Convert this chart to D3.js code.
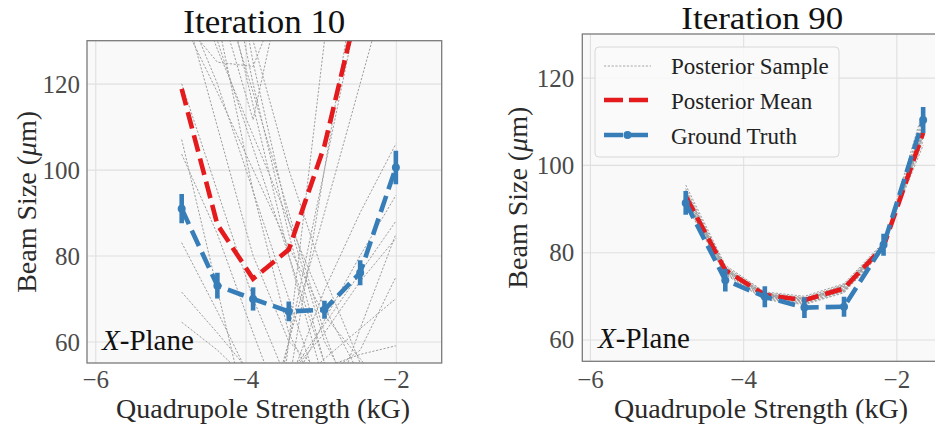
<!DOCTYPE html>
<html><head><meta charset="utf-8">
<script src="https://cdn.jsdelivr.net/npm/d3@7"></script>
<style>
body{margin:0;background:#fff;}
svg{display:block;font-family:"Liberation Serif","Times New Roman",serif;}
</style></head><body>
<svg id="chart" width="935" height="427"></svg>
<script>
// ---------- data ----------
const xTicks = [-6, -4, -2];
const yTicks = [60, 80, 100, 120];
const yDomain = [55, 130];

// Iteration 10 panel
const leftQuad = [-4.85, -4.375, -3.9, -3.425, -2.95, -2.475, -2.0];
const leftTruth = [90.9, 73.0, 69.9, 67.0, 67.4, 76.0, 100.5];
const leftTruthErr = [3.4, 3.0, 2.7, 2.3, 2.1, 2.9, 3.9];
const leftMean = [118.8, 87.2, 74.6, 81.4, 105.6, 140.4, 185.0];
const leftSamples = [
  [107, 72, 37, 10, -20, -50, -80],
  [103.6, 85, 62, 40, 20, 0, -20],
  [83, 67, 50, 35, 20, 5, -10],
  [71.5, 62, 52, 42, 30, 20, 10],
  [64.5, 58, 50, 42, 35, 28, 20],
  [140, 120, 95, 70, 45, 25, 10],
  [155, 130, 105, 80, 55, 35, 20],
  [170, 145, 118, 90, 62, 40, 25],
  [185, 150, 115, 80, 50, 25, 5],
  [200, 160, 120, 85, 55, 30, 10],
  [150, 128, 108, 88, 68, 52, 40],
  [220, 170, 125, 88, 60, 45, 35],
  [135, 118, 100, 82, 66, 56, 45],
  [190, 160, 130, 100, 75, 55, 35],
  [-40, -5, 25, 50, 72, 90, 106],
  [-20, 5, 28, 48, 65, 80, 94],
  [0, 20, 38, 52, 64, 76, 88],
  [10, 25, 40, 52, 62, 74, 84],
  [20, 30, 40, 48, 56, 63, 70],
  [30, 38, 45, 50, 54, 57, 59],
  [-100, -50, 0, 50, 100, 150, 200],
  [-60, -20, 20, 60, 100, 140, 180],
  [-150, -80, -10, 60, 130, 200, 270],
  [-30, 0, 30, 60, 90, 120, 150],
  [160, 140, 111.6, 150, 190, 220, 250],
  [135, 125, 124, 145, 170, 200, 230],
  [120, 95, 70, 50, 40, 63, 85],
  [140, 110, 80, 60, 52, 58, 75],
  [175, 135, 95, 62, 45, 40, 52]
];

// Iteration 90 panel
const rightQuad = [-4.75, -4.233, -3.717, -3.2, -2.683, -2.167, -1.65];
const rightTruth = [91.3, 73.6, 69.8, 67.3, 67.5, 81.7, 110.3];
const rightTruthErr = [2.7, 2.6, 2.4, 2.4, 2.3, 2.5, 3.0];
const rightMean = [92.8, 75.9, 70.2, 69.0, 71.7, 81.3, 107.4];
const rightSamples = [
  [95.4, 77.0, 70.9, 69.9, 72.8, 82.3, 104.5],
  [94.6, 76.7, 70.7, 69.6, 72.5, 82.0, 105.5],
  [94.0, 76.4, 70.5, 69.4, 72.2, 81.8, 106.3],
  [93.5, 76.2, 70.3, 69.2, 72.0, 81.6, 107.0],
  [93.0, 76.0, 70.1, 69.0, 71.8, 81.4, 107.6],
  [92.6, 75.8, 69.9, 68.8, 71.5, 81.2, 108.2],
  [92.2, 75.5, 69.7, 68.6, 71.3, 81.0, 108.9],
  [91.8, 75.3, 69.5, 68.4, 71.1, 80.8, 109.6],
  [91.4, 75.1, 69.3, 68.2, 70.9, 80.6, 110.5],
  [91.0, 74.9, 69.1, 68.0, 70.7, 80.4, 111.5],
  [93.8, 75.6, 70.6, 68.7, 72.6, 81.1, 108.0],
  [92.4, 76.5, 69.6, 69.5, 71.0, 81.9, 106.8],
  [94.2, 75.9, 70.0, 69.3, 71.4, 81.5, 112.6],
  [92.0, 76.1, 70.4, 68.9, 72.3, 80.9, 107.3]
];

const legendLabels = ["Posterior Sample", "Posterior Mean", "Ground Truth"];

// ---------- style ----------
const RED = "#e41a1c", BLUE = "#377eb8", GRAY = "#9e9e9e";
const svg = d3.select("#chart");
const fmt = d3.format("~g");

function panel(o) {
  const x = d3.scaleLinear().domain(o.xDomain).range([o.left, o.right]);
  const y = d3.scaleLinear().domain(yDomain).range([o.bottom, o.top]);
  const W = o.right - o.left, H = o.bottom - o.top;
  const g = svg.append("g");

  g.append("rect").attr("x", o.left).attr("y", o.top).attr("width", W).attr("height", H)
    .attr("fill", "#f9f9f9");

  // grid
  const gx = g.append("g").attr("transform", `translate(0,${o.bottom})`)
    .call(d3.axisBottom(x).tickValues(xTicks).tickSize(-H).tickFormat(""));
  gx.select(".domain").remove();
  gx.selectAll("line").attr("stroke", "#e0e0e0").attr("stroke-width", 1.1);
  const gy = g.append("g").attr("transform", `translate(${o.left},0)`)
    .call(d3.axisLeft(y).tickValues(yTicks).tickSize(-W).tickFormat(""));
  gy.select(".domain").remove();
  gy.selectAll("line").attr("stroke", "#e0e0e0").attr("stroke-width", 1.1);

  const clipId = "clip" + o.id;
  svg.append("clipPath").attr("id", clipId).append("rect")
    .attr("x", o.left).attr("y", o.top).attr("width", W).attr("height", H);
  const plot = g.append("g").attr("clip-path", `url(#${clipId})`);

  const line = d3.line().x((d, i) => x(o.quad[i])).y(d => y(d));

  plot.selectAll(".sample").data(o.samples).join("path").attr("class", "sample")
    .attr("d", line).attr("fill", "none").attr("stroke", GRAY)
    .attr("stroke-width", o.sampleWidth).attr("stroke-dasharray", "2.2,1.6");

  plot.append("path").attr("d", line(o.mean)).attr("fill", "none")
    .attr("stroke", RED).attr("stroke-width", 4.6).attr("stroke-dasharray", "17,7");

  // ground truth error bars
  plot.selectAll(".err").data(o.truth).join("line").attr("class", "err")
    .attr("x1", (d, i) => x(o.quad[i])).attr("x2", (d, i) => x(o.quad[i]))
    .attr("y1", (d, i) => y(d - o.err[i])).attr("y2", (d, i) => y(d + o.err[i]))
    .attr("stroke", BLUE).attr("stroke-width", 4.6);
  plot.append("path").attr("d", line(o.truth)).attr("fill", "none")
    .attr("stroke", BLUE).attr("stroke-width", 4.6).attr("stroke-dasharray", "17,7");
  plot.selectAll(".dot").data(o.truth).join("circle").attr("class", "dot")
    .attr("cx", (d, i) => x(o.quad[i])).attr("cy", d => y(d)).attr("r", 4).attr("fill", BLUE);

  // border
  g.append("rect").attr("x", o.left).attr("y", o.top).attr("width", W).attr("height", H)
    .attr("fill", "none").attr("stroke", "#7a7a7a").attr("stroke-width", 1.3);

  // tick labels
  const tx = g.append("g").attr("transform", `translate(0,${o.bottom})`)
    .call(d3.axisBottom(x).tickValues(xTicks).tickSize(0).tickFormat(fmt));
  tx.select(".domain").remove();
  tx.selectAll("text").attr("dy", null).attr("y", o.xTickBase - o.bottom)
    .attr("font-size", 25).attr("fill", "#4a4a4a").attr("font-family", "Liberation Serif");
  const ty = g.append("g").attr("transform", `translate(${o.left},0)`)
    .call(d3.axisLeft(y).tickValues(yTicks).tickSize(0).tickPadding(o.yPad).tickFormat(fmt));
  ty.select(".domain").remove();
  ty.selectAll("text").attr("dy", "0.34em")
    .attr("font-size", 25).attr("fill", "#4a4a4a").attr("font-family", "Liberation Serif");

  // title
  g.append("text").attr("x", (o.left + o.right) / 2).attr("y", o.titleY)
    .attr("text-anchor", "middle").attr("font-size", o.titleSize).attr("fill", "#111")
    .attr("textLength", 162).attr("lengthAdjust", "spacingAndGlyphs").text(o.title);
  // axis labels
  g.append("text").attr("x", o.xLabelX).attr("y", 418).attr("text-anchor", "middle")
    .attr("font-size", 28).attr("fill", "#2a2a2a").text("Quadrupole Strength (kG)");
  const yl = g.append("text").attr("transform", `translate(${o.yLabelX},${(o.top + o.bottom) / 2}) rotate(-90)`)
    .attr("text-anchor", "middle").attr("font-size", 28).attr("fill", "#2a2a2a");
  yl.append("tspan").text("Beam Size (");
  yl.append("tspan").attr("font-style", "italic").text("μ");
  yl.append("tspan").text("m)");
  // plane label
  const pl = g.append("text").attr("x", o.planeX).attr("y", o.planeY)
    .attr("font-size", 29).attr("fill", "#111");
  pl.append("tspan").attr("font-style", "italic").text("X");
  pl.append("tspan").text("-Plane");
  return {x, y};
}

panel({id: "L", left: 87, right: 441.7, top: 40.7, bottom: 363, xDomain: [-6.11, -1.39],
  quad: leftQuad, truth: leftTruth, err: leftTruthErr, mean: leftMean, samples: leftSamples,
  sampleWidth: 1.0, title: "Iteration 10", titleY: 33, titleSize: 34, xTickBase: 388, yPad: 7,
  xLabelX: 263, yLabelX: 36, planeX: 102, planeY: 350});

panel({id: "R", left: 582.3, right: 942.3, top: 34, bottom: 361.3, xDomain: [-6.1, -1.4],
  quad: rightQuad, truth: rightTruth, err: rightTruthErr, mean: rightMean, samples: rightSamples,
  sampleWidth: 1.0, title: "Iteration 90", titleY: 28.5, titleSize: 31, xTickBase: 388, yPad: 8,
  xLabelX: 761, yLabelX: 527, planeX: 598, planeY: 348});

// legend
const lg = svg.append("g");
lg.append("rect").attr("x", 595).attr("y", 47).attr("width", 244).attr("height", 110)
  .attr("rx", 4).attr("fill", "#fafafa").attr("fill-opacity", 0.85)
  .attr("stroke", "#d8d8d8").attr("stroke-width", 1);
const rows = [66, 100, 135];
const bases = [74, 108.5, 143.5];
lg.append("line").attr("x1", 604).attr("x2", 651).attr("y1", rows[0]).attr("y2", rows[0])
  .attr("stroke", GRAY).attr("stroke-width", 0.9).attr("stroke-dasharray", "2.2,1.6");
lg.append("line").attr("x1", 604).attr("x2", 651).attr("y1", rows[1]).attr("y2", rows[1])
  .attr("stroke", RED).attr("stroke-width", 4.6).attr("stroke-dasharray", "19,6");
lg.append("line").attr("x1", 604).attr("x2", 651).attr("y1", rows[2]).attr("y2", rows[2])
  .attr("stroke", BLUE).attr("stroke-width", 4.6).attr("stroke-dasharray", "19,6");
lg.append("circle").attr("cx", 627.5).attr("cy", rows[2]).attr("r", 4).attr("fill", BLUE);
lg.selectAll(".lt").data(legendLabels).join("text").attr("class", "lt")
  .attr("x", 671).attr("y", (d, i) => bases[i]).attr("font-size", 23).attr("fill", "#222")
  .text(d => d);
</script>
</body></html>
